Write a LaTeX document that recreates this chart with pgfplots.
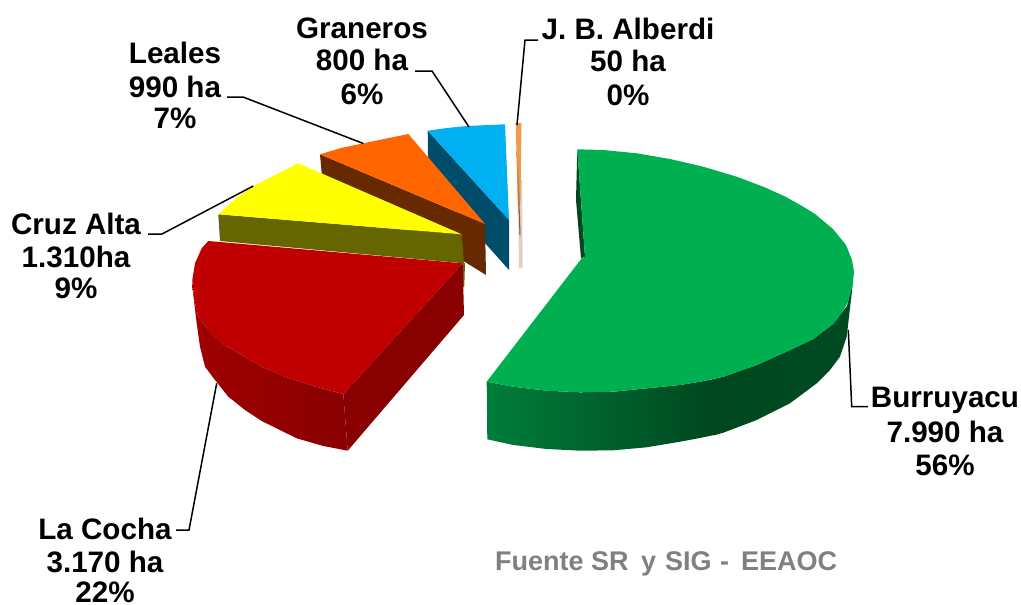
\documentclass[border=0pt]{standalone}
\usepackage{pgfplots}
\pgfplotsset{compat=1.18}
\usepackage{fontspec}
\setmainfont{Liberation Sans}
\definecolor{gTop}{HTML}{00B050}
\definecolor{gA}{HTML}{007D3A}
\definecolor{gB}{HTML}{00471F}
\definecolor{gC}{HTML}{004A22}
\definecolor{rTop}{HTML}{C00000}
\definecolor{rA}{HTML}{A00000}
\definecolor{rB}{HTML}{880000}
\definecolor{ySide}{HTML}{666600}
\definecolor{yTop}{HTML}{FFFF00}
\definecolor{oTop}{HTML}{FF6600}
\definecolor{oSide}{HTML}{662900}
\definecolor{bTop}{HTML}{00B0F0}
\definecolor{bSide}{HTML}{004D6B}
\definecolor{aTop}{HTML}{F09A50}
\definecolor{aSide}{HTML}{7A5230}
\definecolor{aFade}{HTML}{DCCFC6}
\definecolor{fuente}{HTML}{808080}
\newcommand{\lab}[3]{\node[anchor=base,inner sep=0pt,font=\fontsize{29.6}{30}\selectfont\bfseries] at (axis cs:#1,#2) {#3};}
\newcommand{\fte}[2]{\node[anchor=base west,inner sep=0pt,text=fuente,font=\fontsize{27}{27}\selectfont\bfseries] at (axis cs:#1,570.5) {#2};}
\begin{document}
\begin{tikzpicture}
\useasboundingbox (0,0) rectangle (1021pt,605pt);
\begin{axis}[
  scale only axis, width=1021pt, height=605pt,
  xmin=0, xmax=1021, ymin=0, ymax=605, y dir=reverse,
  hide axis, clip=false]
% J. B. Alberdi
\addplot[draw=none,fill=aFade] coordinates {(518,180)(522,180)(522.7,268)(519,268)};
\addplot[draw=none,fill=aTop] coordinates {(515.7,123)(521.5,123)(520.5,200)(518,215)};
\addplot[draw=none,top color=aTop,bottom color=aSide] coordinates {(516.5,150)(518,150)(520.5,235)(519.5,235)};
% Graneros
\addplot[draw=none,fill=bSide] coordinates {(427.7,130.7)(509,220)(509,270)(486.7,245)(428.3,179.7)};
\addplot[draw=none,fill=bTop] coordinates {(427.7,130.7)(447,128)(466.7,126)(505,124.3)(509,220)};
% Leales
\addplot[draw=none,fill=oSide] coordinates {(320,154.3)(485,224)(486,275)(321.7,173.3)};
\addplot[draw=none,fill=oTop] coordinates {(320,154.3)(341,148)(363.3,143.3)(408.3,134)(485,224)};
% Cruz Alta
\addplot[draw=none,fill=ySide] coordinates {(462.7,263.3)(465,262.7)(464.3,286.7)(462.7,286.7)};
\addplot[draw=none,fill=ySide] coordinates {(218.3,214.3)(461.7,234.3)(464,263.3)(220,241)};
\addplot[draw=none,fill=yTop] coordinates {(218.3,214.3)(235,199)(253.3,186)(298.3,163.3)(461.7,234.3)};
% La Cocha
\addplot[draw=none,fill=rB] coordinates {(343.3,394)(462.7,263.3)(464,315)(347.7,450.7)};
\addplot[draw=none,left color=rA,right color=rB] coordinates {(192.3,280)(194.3,300)(198.3,316.7)(208.3,330)(221.7,343.3)(241.7,355)(261.7,366.7)(285,376.7)(313.3,386)(343.3,394)(347.7,450.7)(323.3,446)(296.7,438.3)(261.7,421)(245,410)(228.3,396.7)(215,380)(205,366.7)(200,346.7)(196.7,323.3)(192.3,286.7)};
\addplot[draw=none,fill=rTop] coordinates {(208.3,241)(462.7,263.3)(343.3,394)(313.3,386)(285,376.7)(261.7,366.7)(241.7,355)(221.7,343.3)(208.3,330)(198.3,316.7)(194.3,300)(192.3,280)(195,263.3)(201.7,248.3)};
% Burruyacu
\addplot[draw=none,left color=gA,right color=gB] coordinates {(486.7,381.7)(513.3,386.7)(546.7,390.7)(580,392.3)(613.3,391.7)(646.7,388.3)(680,385)(700,381.7)(714,379)(714,435)(700,438)(680,441.7)(646.7,447.3)(613.3,450.3)(580,450.7)(546.7,449)(513.3,445)(487.3,439.3)};
\addplot[draw=none,left color=gB,right color=gC] coordinates {(713.5,379)(723.3,376.7)(756.7,365)(790,350)(813.3,339)(833,324)(847,306)(852.7,283)(851.7,293.3)(849,316.7)(846.7,336.7)(840,356.7)(830,370)(816.7,383.3)(790,403.3)(756.7,420)(723.3,432.7)(713.5,435.5)};
\addplot[draw=none,fill=gB] coordinates {(577.3,149.3)(576,200)(581,258.3)(585,256.7)};
\addplot[draw=none,fill=gTop] coordinates {(577.3,149.3)(603.3,150)(636.7,153.3)(670,159)(703.3,166.7)(736.7,176.7)(764,187)(786,197)(802,206)(815,214)(833,229)(846,245)(852,260)(854,272)(852.7,285)(848,302)(842,313)(833,324)(813.3,339)(790,350)(756.7,365)(723.3,376.7)(700,381.7)(680,385)(646.7,388.3)(613.3,391.7)(580,392.3)(546.7,390.7)(513.3,386.7)(486.7,381.7)(581.7,258.3)(585,256.7)};
% leader lines
\addplot[black,line width=1.5pt] coordinates {(848.3,330)(851.7,406.7)(868,406.7)};
\addplot[black,line width=1.5pt] coordinates {(216.7,383.3)(189,530)(176,530)};
\addplot[black,line width=1.5pt] coordinates {(253.3,186)(162,234)(148,234)};
\addplot[black,line width=1.5pt] coordinates {(363.3,143.5)(243,97)(227,97)};
\addplot[black,line width=1.5pt] coordinates {(469,127)(432,71)(415,71)};
\addplot[black,line width=1.5pt] coordinates {(517,125)(525,40)(538,40)};
% labels
\lab{945}{407}{Burruyacu}\lab{945}{442}{7.990 ha}\lab{945}{475}{56\%}
\lab{105}{539}{La Cocha}\lab{105}{572}{3.170 ha}\lab{105}{602}{22\%}
\lab{76}{234}{Cruz Alta}\lab{76}{267}{1.310ha}\lab{76}{298}{9\%}
\lab{175}{63}{Leales}\lab{175}{97}{990 ha}\lab{175}{128}{7\%}
\lab{362}{38}{Graneros}\lab{362}{70}{800 ha}\lab{362}{104}{6\%}
\lab{628}{39}{J. B. Alberdi}\lab{628}{71}{50 ha}\lab{628}{105}{0\%}
\fte{495}{Fuente SR}\fte{641}{y}\fte{665}{SIG}\fte{720}{-}\fte{741}{EEAOC}
\end{axis}
\end{tikzpicture}
\end{document}
